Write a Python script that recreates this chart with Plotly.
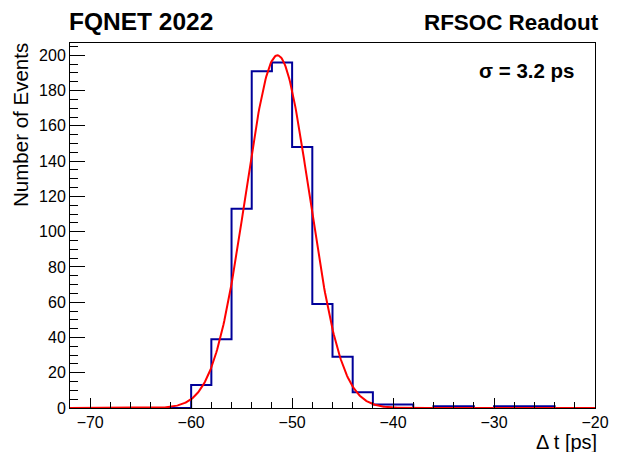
import numpy as np
import plotly.graph_objects as go

# Histogram: 2 ps bins from -72 to -20 ps
bin_start = -72.0
bin_width = 2.0
counts = [0, 0, 0, 0, 0, 0,          # -72 .. -62
          13, 39, 113, 191, 196, 148,  # -60 .. -50
          59, 29, 9, 2, 2, 0,          # -48 .. -38
          1, 1, 0, 1, 1, 1, 0, 0]      # -36 .. -22

# Gaussian fit parameters
fit_amp = 200.0
fit_mean = -51.45
fit_sigma = 3.15

x_ticks = [-70, -60, -50, -40, -30, -20]
y_ticks = [0, 20, 40, 60, 80, 100, 120, 140, 160, 180, 200]

edges = [bin_start + i * bin_width for i in range(len(counts) + 1)]
hx = edges
hy = counts + [counts[-1]]

fx = np.linspace(edges[0], edges[-1], 600)
fy = fit_amp * np.exp(-0.5 * ((fx - fit_mean) / fit_sigma) ** 2)

fig = go.Figure()
fig.add_trace(go.Scatter(x=hx, y=hy, mode="lines", line_shape="hv",
                         line=dict(color="#000099", width=2), showlegend=False))
fig.add_trace(go.Scatter(x=fx, y=fy, mode="lines",
                         line=dict(color="#ff0000", width=2), showlegend=False))

FONT = "Liberation Sans, Arial, Helvetica, sans-serif"

fig.update_layout(
    width=621, height=452, autosize=False,
    margin=dict(l=70, r=14, t=43, b=44),
    paper_bgcolor="white", plot_bgcolor="white",
    font=dict(family=FONT, color="black", size=16),
    xaxis=dict(range=[edges[0], edges[-1]], tickvals=x_ticks,
               ticktext=["\u221270", "\u221260", "\u221250", "\u221240", "\u221230", "\u221220"],
               ticks="inside", ticklen=10, tickwidth=1, tickcolor="black",
               minor=dict(ticks="inside", ticklen=6, dtick=2, tick0=-70, tickcolor="black", showgrid=False),
               showline=True, linecolor="black", linewidth=1, mirror=True,
               showgrid=False, zeroline=False, tickfont=dict(size=16)),
    yaxis=dict(range=[0, 207], tickvals=y_ticks,
               ticks="inside", ticklen=15, tickwidth=1, tickcolor="black",
               minor=dict(ticks="inside", ticklen=8, dtick=5, tick0=0, tickcolor="black", showgrid=False),
               showline=True, linecolor="black", linewidth=1, mirror=True,
               showgrid=False, zeroline=False, tickfont=dict(size=16)),
    annotations=[
        dict(text="<b>FQNET 2022</b>", x=-0.0056, y=1.0584, xref="paper", yref="paper",
             xanchor="left", yanchor="middle", showarrow=False, font=dict(size=24.5)),
        dict(text="<b>RFSOC Readout</b>", x=1.0112, y=1.056, xref="paper", yref="paper",
             xanchor="right", yanchor="middle", showarrow=False, font=dict(size=22.4)),
        dict(text="<b>\u03c3 = 3.2 ps</b>", x=0.7747, y=0.924, xref="paper", yref="paper",
             xanchor="left", yanchor="middle", showarrow=False, font=dict(size=20.5)),
        dict(text="\u0394 t [ps]", x=1.0075, y=-0.0923, xref="paper", yref="paper",
             xanchor="right", yanchor="middle", showarrow=False, font=dict(size=20)),
        dict(text="Number of Events", x=-0.0931, y=1.006, xref="paper", yref="paper",
             xanchor="center", yanchor="top", textangle=-90, showarrow=False, font=dict(size=20.5)),
    ],
)

fig.write_html("out.html",
               config={"displayModeBar": False, "responsive": False},
               post_script="document.body.style.margin='0';document.body.style.overflow='hidden';")
